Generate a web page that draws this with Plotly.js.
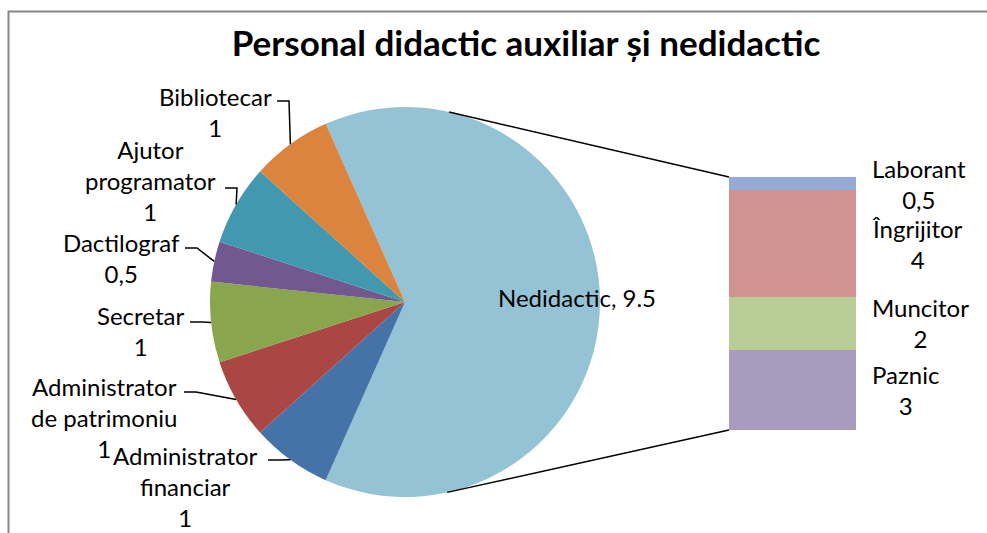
<!DOCTYPE html>
<html>
<head>
<meta charset="utf-8">
<script src="https://cdn.plot.ly/plotly-3.0.1.min.js"></script>
<style>html,body{margin:0;padding:0;background:#fff;}#chart{width:987px;height:533px;}</style>
</head>
<body>
<div id="chart"></div>
<script>
// ---- data ----
var pieLabels = ["Nedidactic", "Administrator financiar", "Administrator de patrimoniu", "Secretar", "Dactilograf", "Ajutor programator", "Bibliotecar"];
var pieValues = [9.5, 1, 1, 1, 0.5, 1, 1];
var pieText = ["Nedidactic, 9.5", "Administrator<br>financiar<br>1", "Administrator<br>de patrimoniu<br>1", "Secretar<br>1", "Dactilograf<br>0,5", "Ajutor<br>programator<br>1", "Bibliotecar<br>1"];
var barLabels = ["Paznic", "Muncitor", "Îngrijitor", "Laborant"];
var barValues = [3, 2, 4, 0.5];
var barValueText = ["3", "2", "4", "0,5"];
var titleText = "Personal didactic auxiliar și nedidactic";

// ---- styles ----
var pieColors = ["#93C3D5", "#4572A7", "#AA4643", "#89A54E", "#71588F", "#4198AF", "#DB843D"];
var barColors = ["#A99BBD", "#B9CD96", "#D19392", "#95AAD5"];
var W = 987, H = 533;
var FONT = "Lato, 'Open Sans', sans-serif";
var LSIZE = 24;
function px(x) { return x / W; }
function py(y) { return 1 - y / H; }

// pie placement (pixels)
var pieBox = {x0: 210, x1: 600, y0: 107, y1: 497};
var rotation = -24;
// bar placement (pixels)
var barBox = {x0: 729, x1: 856, y0: 177, y1: 430};

// label layout for small slices: text block center and the point where the leader meets the text
var labelPos = [
  null,
  {cx: 185, cy: 486, lx: 268, ly: 460},
  {cx: 104, cy: 417, lx: 184, ly: 392},
  {cx: 140, cy: 331, lx: 190, ly: 322},
  {cx: 121, cy: 258, lx: 185, ly: 248},
  {cx: 150, cy: 180, lx: 225, ly: 188},
  {cx: 215, cy: 112, lx: 277, ly: 101}
];

var cx = (pieBox.x0 + pieBox.x1) / 2, cy = (pieBox.y0 + pieBox.y1) / 2;
var r = Math.min(pieBox.x1 - pieBox.x0, pieBox.y1 - pieBox.y0) / 2;
var total = pieValues.reduce(function (a, b) { return a + b; }, 0);

var annotations = [];
var shapes = [];

// border
shapes.push({type: "rect", xref: "paper", yref: "paper", x0: px(8.5), x1: px(1000), y0: py(560), y1: py(11.5),
  line: {color: "#878787", width: 2}, fillcolor: "rgba(0,0,0,0)", layer: "below"});

// slice mid-angles (clockwise from 12 o'clock, same convention as plotly)
var ang = rotation;
for (var i = 0; i < pieValues.length; i++) {
  var span = 360 * pieValues[i] / total;
  var mid = (ang + span / 2) * Math.PI / 180;
  ang += span;
  var ex = cx + r * Math.sin(mid), ey = cy - r * Math.cos(mid);
  var lp = labelPos[i];
  if (lp) {
    shapes.push({type: "path", xref: "paper", yref: "paper",
      path: "M " + px(lp.lx) + "," + py(lp.ly) + " L " + px(lp.lx + 12) + "," + py(lp.ly) + " L " + px(ex) + "," + py(ey),
      line: {color: "#000", width: 1.5}});
    annotations.push({xref: "paper", yref: "paper", x: px(lp.cx), y: py(lp.cy), xanchor: "center", yanchor: "middle",
      text: pieText[i], showarrow: false, align: "center", font: {family: FONT, size: LSIZE, color: "#000"}});
  }
}
// big slice label
annotations.push({xref: "paper", yref: "paper", x: px(577), y: py(297), xanchor: "center", yanchor: "middle",
  text: pieText[0], showarrow: false, font: {family: FONT, size: LSIZE, color: "#000"}});

// connector lines: tangents from bar corners to the pie circle
function tangent(Px, Py, sign) {
  var dx = Px - cx, dy = cy - Py;
  var d = Math.sqrt(dx * dx + dy * dy);
  var phi = Math.atan2(dy, dx);
  var t = phi + sign * Math.acos(r / d);
  return [cx + r * Math.cos(t), cy - r * Math.sin(t)];
}
var t1 = tangent(barBox.x0, barBox.y0, 1);
var t2 = tangent(barBox.x0, barBox.y1, -1);
shapes.push({type: "line", xref: "paper", yref: "paper", x0: px(t1[0]), y0: py(t1[1]), x1: px(barBox.x0), y1: py(barBox.y0), line: {color: "#000", width: 1.5}});
shapes.push({type: "line", xref: "paper", yref: "paper", x0: px(t2[0]), y0: py(t2[1]), x1: px(barBox.x0), y1: py(barBox.y1), line: {color: "#000", width: 1.5}});

// bar labels at segment centres, right of the bar
var cum = 0;
for (var j = 0; j < barValues.length; j++) {
  var midv = cum + barValues[j] / 2;
  cum += barValues[j];
  annotations.push({xref: "x", yref: "y", x: 0.5, y: midv, xanchor: "left", yanchor: "middle", xshift: 14,
    text: barLabels[j] + "<br>" + barValueText[j], showarrow: false, align: "center",
    font: {family: FONT, size: LSIZE, color: "#000"}});
}

var traces = [{
  type: "pie", labels: pieLabels, values: pieValues, sort: false, direction: "clockwise", rotation: rotation,
  marker: {colors: pieColors, line: {width: 0}}, textinfo: "none", hoverinfo: "none", showlegend: false,
  domain: {x: [px(pieBox.x0), px(pieBox.x1)], y: [py(pieBox.y1), py(pieBox.y0)]}
}];
for (var k = 0; k < barValues.length; k++) {
  traces.push({type: "bar", x: [0], y: [barValues[k]], width: 1, name: barLabels[k],
    marker: {color: barColors[k], line: {width: 0}}, hoverinfo: "none", showlegend: false, xaxis: "x", yaxis: "y"});
}

var layout = {
  width: W, height: H, margin: {l: 0, r: 0, t: 0, b: 0},
  paper_bgcolor: "#fff", plot_bgcolor: "rgba(0,0,0,0)",
  barmode: "stack", bargap: 0,
  title: {text: "<b>" + titleText + "</b>", x: px(526), xanchor: "center", y: py(44), yanchor: "middle",
    font: {family: FONT, size: 35, color: "#000"}},
  xaxis: {domain: [px(barBox.x0), px(barBox.x1)], range: [-0.5, 0.5], visible: false, fixedrange: true},
  yaxis: {domain: [py(barBox.y1), py(barBox.y0)], range: [0, cum], visible: false, fixedrange: true},
  shapes: shapes, annotations: annotations, showlegend: false
};
Plotly.newPlot("chart", traces, layout, {displayModeBar: false, staticPlot: true});
</script>
</body>
</html>
